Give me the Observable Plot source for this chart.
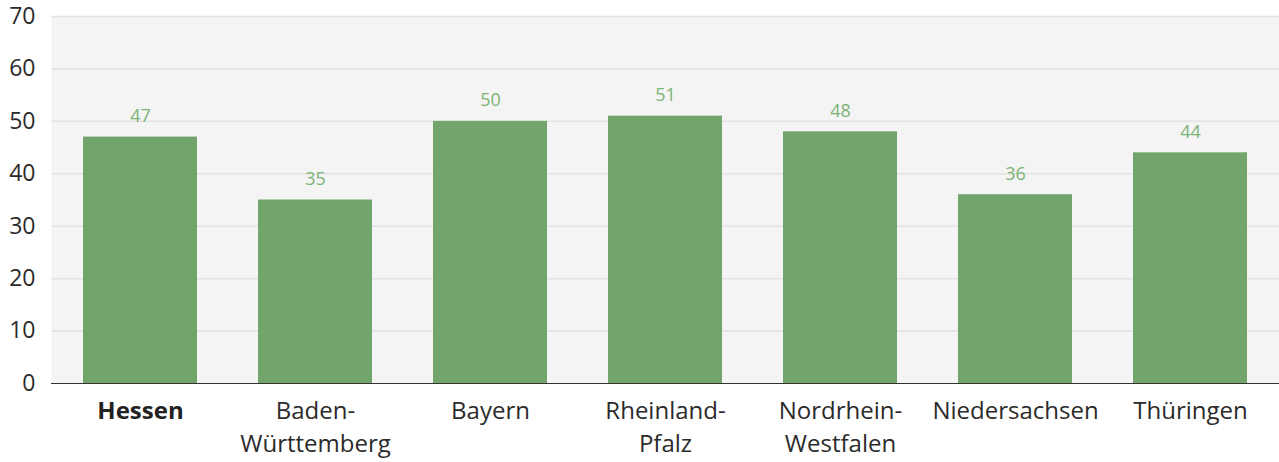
<!DOCTYPE html>
<html>
<head>
<meta charset="utf-8">
<script src="https://cdn.jsdelivr.net/npm/d3@7"></script>
<script src="https://cdn.jsdelivr.net/npm/@observablehq/plot@0.6"></script>
<style>
  html, body { margin: 0; padding: 0; background: #fff; }
  svg { display: block; }
</style>
</head>
<body>
<div id="chart"></div>
<script>
const categories = ["Hessen", "Baden-Württemberg", "Bayern", "Rheinland-Pfalz", "Nordrhein-Westfalen", "Niedersachsen", "Thüringen"];
const values = [47, 35, 50, 51, 48, 36, 44];
const tickLabels = {
  "Hessen": "Hessen",
  "Baden-Württemberg": "Baden-\nWürttemberg",
  "Bayern": "Bayern",
  "Rheinland-Pfalz": "Rheinland-\nPfalz",
  "Nordrhein-Westfalen": "Nordrhein-\nWestfalen",
  "Niedersachsen": "Niedersachsen",
  "Thüringen": "Thüringen"
};
const yTicks = [0, 10, 20, 30, 40, 50, 60, 70];
const highlighted = ["Hessen"];

const data = categories.map((c, i) => ({ category: c, value: values[i] }));
const others = categories.filter(c => !highlighted.includes(c));

const chart = Plot.plot({
  width: 1279,
  height: 462,
  marginLeft: 51,
  marginRight: 0,
  marginTop: 16,
  marginBottom: 79,
  style: { fontFamily: "'Open Sans', 'Noto Sans', sans-serif", background: "#fff" },
  x: { domain: categories, paddingInner: 0.35, paddingOuter: 0.175, label: null },
  y: { domain: [0, 70], label: null },
  marks: [
    Plot.frame({ fill: "#f4f4f4", stroke: null }),
    Plot.ruleY(yTicks.filter(d => d > 0), { stroke: "#e2e2e2", strokeWidth: 1.5 }),
    Plot.barY(data, { x: "category", y: "value", fill: "#72a56c" }),
    Plot.text(data, { x: "category", y: "value", text: d => String(d.value), dy: -21, fill: "#7cb376", fontSize: 18 }),
    Plot.ruleX([0], { frameAnchor: "left", stroke: "#333", strokeWidth: 1.2 }),
    Plot.ruleY([0], { stroke: "#333", strokeWidth: 1.2 }),
    Plot.axisY(yTicks, { tickSize: 0, tickPadding: 16, fontSize: 23, fill: "#2b2b2b", label: null }),
    Plot.axisX(highlighted, { tickSize: 0, tickPadding: 12, fontSize: 24, fontWeight: "bold", fill: "#222", lineHeight: 1.375, tickFormat: d => tickLabels[d], label: null }),
    Plot.axisX(others, { tickSize: 0, tickPadding: 12, fontSize: 24, fill: "#2b2b2b", lineHeight: 1.375, tickFormat: d => tickLabels[d], label: null })
  ]
});
document.getElementById("chart").appendChild(chart);
</script>
</body>
</html>
